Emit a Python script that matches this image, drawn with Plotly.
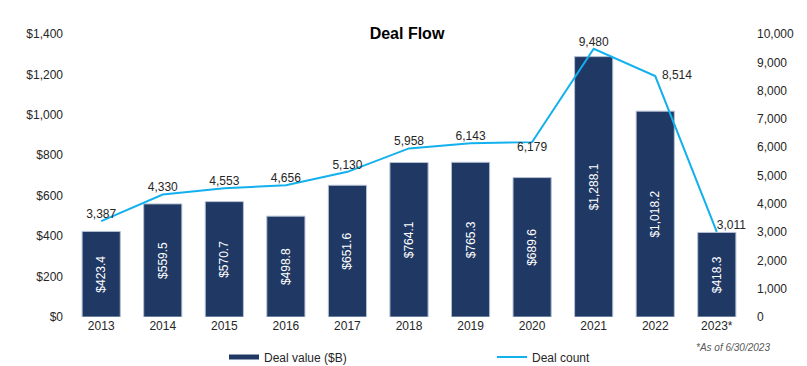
import plotly.graph_objects as go

years = ["2013", "2014", "2015", "2016", "2017", "2018", "2019", "2020", "2021", "2022", "2023*"]
deal_value = [423.4, 559.5, 570.7, 498.8, 651.6, 764.1, 765.3, 689.6, 1288.1, 1018.2, 418.3]
deal_count = [3387, 4330, 4553, 4656, 5130, 5958, 6143, 6179, 9480, 8514, 3011]
count_label_pos = ["top center"] * 7 + ["bottom center", "top center", "middle right", "top right"]

BAR = "#1F3864"
LINE = "#13B0EE"
FONT = "Arial, Liberation Sans, sans-serif"

L, R, T, B = 67, 56, 34, 49
PH = 366 - T - B
PW = 807 - L - R

count_text = []
for c, p in zip(deal_count, count_label_pos):
    t = f"{c:,}"
    if p == "middle right":
        t = "\u00a0\u00a0" + t
    count_text.append(t)

fig = go.Figure()
fig.add_trace(go.Bar(
    x=years, y=deal_value, name="Deal value ($B)", showlegend=False,
    legendgroup="v",
    marker=dict(color=BAR, line=dict(color="#B4C0D4", width=1)),
    width=0.62,
    text=[f"${v:,.1f}" for v in deal_value],
    texttemplate="%{text}",
    textposition="inside", insidetextanchor="middle", textangle=-90,
    textfont=dict(color="white", size=12, family=FONT),
    cliponaxis=False,
))
fig.add_trace(go.Scatter(
    x=years, y=deal_count, name="Deal count", yaxis="y2", mode="lines+text",
    line=dict(color=LINE, width=2),
    text=count_text, textposition=count_label_pos,
    textfont=dict(color="#262626", size=12, family=FONT),
    showlegend=False, cliponaxis=False,
))
# legend entries
fig.add_trace(go.Scatter(x=[None], y=[None], mode="lines", name="Deal value ($B)",
                         line=dict(color=BAR, width=5), legendgroup="v"))
fig.add_trace(go.Scatter(x=[None], y=[None], mode="lines", name="Deal count",
                         line=dict(color=LINE, width=2), yaxis="y2"))

fig.update_layout(
    width=807, height=366,
    margin=dict(l=L, r=R, t=T, b=B, autoexpand=False),
    paper_bgcolor="white", plot_bgcolor="white",
    font=dict(family=FONT, color="#262626", size=12),
    title=dict(text="<b>Deal Flow</b>", x=(407 / 807), xanchor="center", y=1 - 33 / 366, yanchor="middle",
               font=dict(size=16, color="#000000", family=FONT)),
    bargap=0.38,
    xaxis=dict(showgrid=False, showline=False, ticks="", tickfont=dict(size=12), automargin=False),
    yaxis=dict(range=[0, 1400], dtick=200, tickprefix="$", tickformat=",", showgrid=False,
               zeroline=False, showline=False, ticks="", ticklabelstandoff=3, automargin=False),
    yaxis2=dict(range=[0, 10000], dtick=1000, tickformat=",", overlaying="y", side="right",
                showgrid=False, zeroline=False, showline=False, ticks="", ticklabelstandoff=5,
                automargin=False),
    legend=dict(orientation="h", xref="paper", yref="paper",
                x=(224 - L) / PW, y=-(357 - 317) / PH, xanchor="left", yanchor="middle",
                itemwidth=30, entrywidth=223, entrywidthmode="pixels",
                font=dict(size=12, color="#262626"), bgcolor="rgba(0,0,0,0)"),
    annotations=[dict(text="<i>*As of 6/30/2023</i>", xref="paper", yref="paper",
                      x=(694 - L) / PW, y=-(348 - 317) / PH,
                      xanchor="left", yanchor="middle", showarrow=False,
                      font=dict(size=10, color="#595959", family=FONT))],
)

fig.write_html("out.html", config={"displayModeBar": False},
               post_script="document.body.style.margin='0';document.body.style.overflow='hidden';")
